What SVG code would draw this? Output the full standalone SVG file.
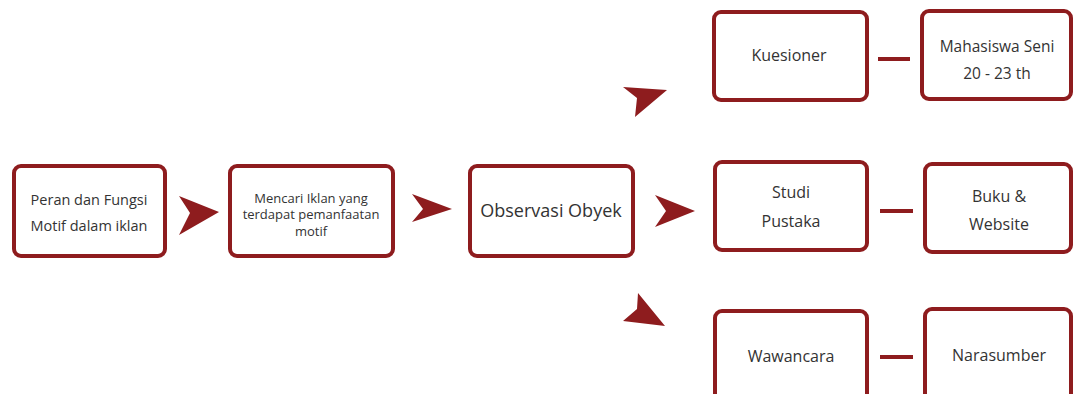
<svg xmlns="http://www.w3.org/2000/svg" width="1073" height="394" viewBox="0 0 1073 394">
<defs>
<style>
.box{fill:#fff;stroke:#8e1c1e;stroke-width:4}
.t{font-family:"Open Sans","Noto Sans",sans-serif;fill:#333;text-anchor:middle;dominant-baseline:central}
.s14{font-size:14.5px}.s13{font-size:13px}.s15{font-size:15.5px}.s16{font-size:16px}.s18{font-size:18px}
.arr{fill:#8e1c1e}
.ln{stroke:#8e1c1e;stroke-width:4}
</style>
</defs>
<rect width="1073" height="394" fill="#fff"/>
<g id="connectors">
<polygon class="arr" points="179,196 219,212 179,235 190,213"/>
<polygon class="arr" points="412,194 452,209 412,222 423,209"/>
<polygon class="arr" points="655,195 695,211 655,227 666,211"/>
<polygon class="arr" points="623,87 667,90 635,117 637,98"/>
<polygon class="arr" points="638,293 665,326 623,321 637,309"/>
<line class="ln" x1="878" y1="59" x2="910" y2="59"/>
<line class="ln" x1="880" y1="211" x2="913" y2="211"/>
<line class="ln" x1="880" y1="357" x2="913" y2="357"/>
</g>
<g id="n1"><rect class="box" x="14" y="166" width="151" height="90" rx="7"/>
<text class="t s14" x="89" y="199">Peran dan Fungsi</text><text class="t s14" x="89" y="225">Motif dalam iklan</text></g>
<g id="n2"><rect class="box" x="230" y="166" width="163" height="90" rx="7"/>
<text class="t s13" x="311" y="198">Mencari Iklan yang</text><text class="t s13" x="311" y="214">terdapat pemanfaatan</text><text class="t s13" x="311" y="231">motif</text></g>
<g id="n3"><rect class="box" x="470" y="166" width="163" height="90" rx="7"/>
<text class="t s18" x="551" y="210">Observasi Obyek</text></g>
<g id="n4"><rect class="box" x="714" y="12" width="153" height="88" rx="7"/>
<text class="t s16" x="789" y="55">Kuesioner</text></g>
<g id="n5"><rect class="box" x="922" y="11" width="149" height="88" rx="7"/>
<text class="t s15" x="997" y="46">Mahasiswa Seni</text><text class="t s15" x="997" y="73">20 - 23 th</text></g>
<g id="n6"><rect class="box" x="715" y="162" width="152" height="88" rx="7"/>
<text class="t s16" x="791" y="192">Studi</text><text class="t s16" x="791" y="221">Pustaka</text></g>
<g id="n7"><rect class="box" x="925" y="164" width="146" height="88" rx="7"/>
<text class="t s16" x="999" y="196">Buku &amp;</text><text class="t s16" x="999" y="224">Website</text></g>
<g id="n8"><rect class="box" x="715" y="311" width="152" height="100" rx="7"/>
<text class="t s16" x="791" y="356">Wawancara</text></g>
<g id="n9"><rect class="box" x="925" y="309" width="146" height="100" rx="7"/>
<text class="t s16" x="999" y="355">Narasumber</text></g>
</svg>
